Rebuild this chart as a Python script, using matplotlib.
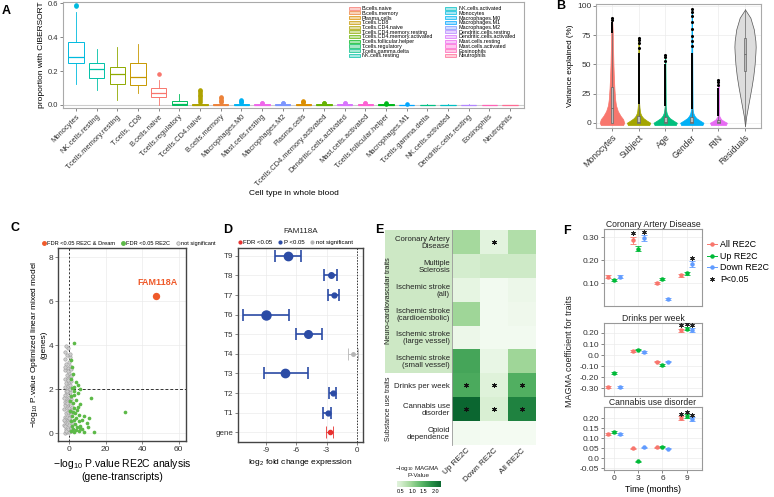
import matplotlib
matplotlib.use('Agg')
import matplotlib.pyplot as plt
import numpy as np
from matplotlib.patches import Patch, Rectangle
from matplotlib.colors import LinearSegmentedColormap, Normalize
from matplotlib.lines import Line2D

plt.rcParams['font.family'] = ['Liberation Sans', 'DejaVu Sans']
plt.rcParams['mathtext.fontset'] = 'custom'
plt.rcParams['mathtext.rm'] = 'Liberation Sans'
plt.rcParams['mathtext.it'] = 'Liberation Sans:italic'

# ---------------- data ----------------
# A: CIBERSORT proportions (box stats)
a_legend = ['B.cells.naive', 'B.cells.memory', 'Plasma.cells', 'T.cells.CD8', 'T.cells.CD4.naive',
            'T.cells.CD4.memory.resting', 'T.cells.CD4.memory.activated', 'T.cells.follicular.helper',
            'T.cells.regulatory', 'T.cells.gamma.delta', 'NK.cells.resting', 'NK.cells.activated',
            'Monocytes', 'Macrophages.M0', 'Macrophages.M1', 'Macrophages.M2', 'Dendritic.cells.resting',
            'Dendritic.cells.activated', 'Mast.cells.resting', 'Mast.cells.activated', 'Eosinophils', 'Neutrophils']
a_cells = ['Monocytes', 'NK.cells.resting', 'T.cells.memory.resting', 'T.cells, CD8', 'B.cells.naive',
           'T.cells.regulatory', 'T.cells.CD4.naive', 'B.cells.memory', 'Macrophages.M0', 'Mast.cells.resting',
           'Macrophages.M2', 'Plasma.cells', 'T.cells.CD4.memory.activated', 'Dendritic.cells.activated',
           'Mast.cells.activated', 'T.cells.follicular.helper', 'Macrophages.M1', 'T.cells.gamma.delta',
           'NK.cells.activated', 'Dendritic.cells.resting', 'Eosinophils', 'Neutrophils']
a_color_idx = [12, 10, 5, 3, 0, 8, 4, 1, 13, 18, 15, 2, 6, 17, 19, 7, 14, 9, 11, 16, 20, 21]
a_med = [0.285, 0.21, 0.185, 0.165, 0.07, 0.005, 0.002, 0.002, 0.001, 0.001, 0.001, 0.002, 0.002,
         0.001, 0.001, 0.001, 0.001, 0.001, 0.001, 0.0, 0.0, 0.0]
a_q1 = [0.245, 0.16, 0.125, 0.12, 0.045, 0.0, 0.0, 0.0, 0.0, 0.0, 0.0, 0.0, 0.0, 0.0, 0.0, 0.0, 0.0,
        0.0, 0.0, 0.0, 0.0, 0.0]
a_q3 = [0.37, 0.25, 0.225, 0.25, 0.10, 0.025, 0.006, 0.006, 0.004, 0.004, 0.004, 0.006, 0.005, 0.004,
        0.004, 0.003, 0.002, 0.002, 0.002, 0.002, 0.001, 0.001]
a_wlo = [0.125, 0.09, 0.03, 0.07, 0.0, 0.0, 0.0, 0.0, 0.0, 0.0, 0.0, 0.0, 0.0, 0.0, 0.0, 0.0, 0.0,
         0.0, 0.0, 0.0, 0.0, 0.0]
a_whi = [0.55, 0.33, 0.34, 0.36, 0.15, 0.065, 0.012, 0.012, 0.008, 0.008, 0.008, 0.012, 0.009, 0.008,
         0.007, 0.006, 0.004, 0.004, 0.004, 0.003, 0.002, 0.002]
a_fliers = [[0.584, 0.588], [], [], [], [0.18], [],
            [0.02, 0.03, 0.04, 0.05, 0.06, 0.07, 0.08, 0.09], [0.02, 0.025, 0.03, 0.04, 0.045],
            [0.015, 0.02, 0.025, 0.03], [0.01, 0.012], [0.01, 0.014], [0.016, 0.02, 0.024],
            [0.012, 0.014], [0.01, 0.012], [0.01, 0.012], [0.008, 0.01], [0.006], [], [], [], [], []]

# B: variance partition violins
b_cats = ['Monocytes', 'Subject', 'Age', 'Gender', 'RIN', 'Residuals']
b_colors = ['#F8766D', '#A3A500', '#00BF7D', '#00B0F6', '#E76BF3', '#DDDDDD']
b_prof_y = [[-2, 0, 3, 6, 10, 15, 20, 30, 40, 50, 60, 70, 77, 85, 90],
            [-2, 0, 2, 4, 6, 8, 10, 13, 16, 20, 73],
            [-2, 0, 2, 4, 6, 8, 10, 12, 14, 58],
            [-2, 0, 2, 4, 6, 8, 10, 12, 97],
            [-2, 0, 1.5, 3, 5, 6, 37],
            [-3, 5, 10, 20, 30, 40, 50, 60, 65, 70, 80, 90, 97]]
b_prof_w = [[0.42, 0.46, 0.42, 0.32, 0.22, 0.15, 0.12, 0.09, 0.07, 0.055, 0.045, 0.035, 0.03, 0.015, 0.0],
            [0.40, 0.44, 0.30, 0.18, 0.11, 0.07, 0.05, 0.035, 0.025, 0.015, 0.008],
            [0.40, 0.44, 0.30, 0.17, 0.10, 0.06, 0.04, 0.03, 0.02, 0.008],
            [0.40, 0.44, 0.30, 0.17, 0.10, 0.06, 0.04, 0.03, 0.008],
            [0.28, 0.32, 0.20, 0.10, 0.05, 0.03, 0.008],
            [0.0, 0.04, 0.08, 0.16, 0.24, 0.31, 0.36, 0.39, 0.40, 0.39, 0.33, 0.20, 0.0]]
b_q1 = [0, 0, 0, 0, 0, 44]
b_med = [13, 1, 1, 1, 0.5, 59]
b_q3 = [31, 6, 5, 5, 2, 73]
b_wlo = [0, 0, 0, 0, 0, -3]
b_whi = [77, 16, 14, 12, 6, 97]
b_out_lo = [77, 16, 14, 12, 6, None]
b_out_hi = [86, 60, 50, 60, 30, None]
b_out_pts = [[88, 90], [64, 68, 71, 73], [53, 56, 58], [66, 70, 74, 80, 86, 91, 95, 97], [32, 35, 37], []]

# C: RE2C vs dream
c_ns_x = [-2.3, -1.1, 0.2, 1.3, -1.8, -0.4, 0.9, -2.6, -1.2, 0.1, 1.6, -1.9, -0.6, 0.7, -2.4, -1.0, 0.3,
          1.2, -1.7, -0.3, 0.9, -2.5, -1.2, 0.2, 1.5, -1.9, -0.5, 0.8, -2.2, -0.9, 0.4, 1.3, -1.6, -0.2,
          1.0, -2.4, -1.1, 0.3, -1.8, -0.5, 0.8, -2.1, -0.8, 0.5, -1.5, -0.1, 1.1, -2.0, -0.7, 0.4, -1.3,
          0.0, -2.2, -0.6, 0.6, -1.5, -0.2, -2.0, 0.3, -1.0, -2.3, -0.4, 0.8, -1.4, -0.8, -1.9, 1.3, 0.9,
          -2.7, -1.5, 0.6, -0.9, -2.0, 0.0, -1.3, -2.8, 1.0, -0.3]
c_ns_y = [0.02, 0.05, 0.03, 0.08, 0.2, 0.18, 0.25, 0.35, 0.4, 0.38, 0.45, 0.55, 0.6, 0.58, 0.72, 0.75,
          0.8, 0.85, 0.92, 0.97, 1.02, 1.08, 1.12, 1.15, 1.2, 1.27, 1.3, 1.36, 1.42, 1.47, 1.5, 1.55, 1.6,
          1.66, 1.7, 1.75, 1.8, 1.86, 1.93, 1.97, 2.02, 2.1, 2.14, 2.2, 2.27, 2.32, 2.38, 2.45, 2.5, 2.58,
          2.66, 2.75, 2.85, 2.95, 3.05, 3.15, 3.25, 3.38, 3.45, 3.55, 3.7, 3.85, 3.6, 3.95, 2.8, 3.0, 2.9,
          2.6, 0.6, 0.1, 1.0, 1.9, 0.3, 0.7, 1.35, 1.6, 0.15, 2.4]
c_sig_x = [2.8, 0.9, 1.5, 2.1, 4.0, 4.7, 2.8, 1.5, 5.8, 2.5, 4.7, 0.9, 12.3, 3.6, 2.1, 6.2, 2.8, 4.3,
           0.6, 30.8, 3.4, 5.5, 1.5, 8.1, 4.0, 2.5, 7.2, 0.9, 5.3, 9.6, 3.2, 1.5, 6.2, 4.3, 10.4, 2.1,
           7.2, 3.6, 0.9, 5.3, 13.5, 8.1, 2.5, 6.2, 1.2, 3.0, 4.9, 0.5, 2.0, 11.0]
c_sig_y = [4.1, 3.3, 3.0, 2.7, 2.3, 2.2, 2.1, 2.05, 2.0, 1.9, 1.8, 1.67, 1.6, 1.5, 1.36, 1.3, 1.14,
           1.06, 1.0, 0.97, 0.9, 0.83, 0.76, 0.76, 0.68, 0.6, 0.6, 0.53, 0.53, 0.45, 0.42, 0.33, 0.33,
           0.27, 0.27, 0.18, 0.18, 0.12, 0.08, 0.08, 0.05, 0.06, 0.03, 0.23, 2.45, 1.75, 1.2, 1.45, 0.95,
           0.7]
c_top_x = [47.5]
c_top_y = [6.25]

# D: FAM118A transcripts
d_labels = ['gene', 'T1', 'T2', 'T3', 'T4', 'T5', 'T6', 'T7', 'T8', 'T9']
d_est = [-2.65, -2.9, -2.4, -7.1, -0.35, -4.8, -9.0, -2.3, -2.6, -6.85]
d_lo = [-3.05, -3.35, -2.8, -9.2, -0.85, -6.0, -11.3, -2.85, -3.3, -8.1]
d_hi = [-2.35, -2.55, -2.05, -4.85, 0.1, -3.5, -6.7, -1.75, -2.0, -5.5]
d_class = ['fdr', 'p', 'p', 'p', 'ns', 'p', 'p', 'p', 'p', 'p']
d_msize = [3.0, 3.5, 3.5, 6.0, 2.5, 5.5, 6.5, 3.5, 4.0, 6.0]

# E: MAGMA heatmap
e_traits = ['Coronary Artery\nDisease', 'Multiple\nSclerosis', 'Ischemic stroke\n(all)',
            'Ischemic stroke\n(cardioembolic)', 'Ischemic stroke\n(large vessel)',
            'Ischemic stroke\n(small vessel)', 'Drinks per week', 'Cannabis use\ndisorder',
            'Opioid\ndependence']
e_sets = ['Up RE2C', 'Down RE2C', 'All RE2C']
e_vals = [[0.9, 0.3, 0.8],
          [0.5, 0.55, 0.55],
          [0.25, 0.05, 0.15],
          [0.95, 0.05, 0.1],
          [0.15, 0.05, 0.05],
          [1.6, 0.2, 0.95],
          [1.55, 0.35, 1.5],
          [2.3, 0.45, 2.0],
          [0.05, 0.02, 0.02]]
e_star = [[0, 1, 0], [0, 0, 0], [0, 0, 0], [0, 0, 0], [0, 0, 0], [0, 0, 0],
          [1, 1, 1], [1, 1, 1], [0, 0, 0]]

# F: MAGMA coefficients over time (series: All, Up, Down)
f_times = [0, 3, 6, 9]
f_series = ['All RE2C', 'Up RE2C', 'Down RE2C']
f_titles = ['Coronary Artery Disease', 'Drinks per week', 'Cannabis use disorder']
f_vals = [[[0.127, 0.285, 0.10, 0.133], [0.113, 0.25, 0.117, 0.143], [0.128, 0.295, 0.03, 0.182]],
          [[-0.29, 0.036, -0.06, 0.225], [-0.165, 0.05, -0.09, 0.238], [-0.29, 0.028, -0.06, 0.228]],
          [[0.12, 0.05, 0.055, 0.198], [0.132, -0.015, 0.058, 0.208], [0.12, 0.055, 0.048, 0.193]]]
f_err = [[[0.006, 0.016, 0.006, 0.007], [0.006, 0.01, 0.006, 0.007], [0.006, 0.014, 0.004, 0.012]],
         [[0.012, 0.006, 0.006, 0.015], [0.008, 0.006, 0.006, 0.015], [0.012, 0.006, 0.006, 0.015]],
         [[0.004, 0.003, 0.003, 0.01], [0.004, 0.003, 0.003, 0.01], [0.004, 0.003, 0.003, 0.01]]]
f_sig = [[[0, 1, 0, 0], [0, 0, 0, 0], [0, 1, 0, 1]],
         [[0, 0, 0, 1], [0, 0, 0, 1], [0, 0, 0, 1]],
         [[0, 0, 0, 1], [0, 0, 0, 1], [0, 0, 0, 1]]]
f_yticks = [[0.10, 0.20, 0.30], [-0.30, -0.20, -0.10, 0.0, 0.10, 0.20],
            [-0.05, 0.0, 0.05, 0.10, 0.15, 0.20]]
f_yticklabels = [['0.10', '0.20', '0.30'], ['-0.30', '-0.20', '-0.10', '0.0', '0.10', '0.20'],
                 ['-0.05', '0.0', '0.05', '0.10', '0.15', '0.20']]
f_ylims = [(0.0, 0.335), (-0.37, 0.29), (-0.058, 0.255)]


# ---------------- helpers ----------------
W, H = 774, 497
fig = plt.figure(figsize=(W / 100, H / 100), dpi=100)


def add_ax(l, t, r, b):
    return fig.add_axes([l / W, 1 - b / H, (r - l) / W, (b - t) / H])


def fx(x):
    return x / W


def fy(y):
    return 1 - y / H


def hue_pal(n, l=65, c=100):
    # ggplot2 default hue palette (HCL)
    out = []
    M = np.array([[3.2406, -1.5372, -0.4986], [-0.9689, 1.8758, 0.0415], [0.0557, -0.2040, 1.0570]])
    for h in np.linspace(15, 375, n + 1)[:n]:
        u = c * np.cos(np.radians(h))
        v = c * np.sin(np.radians(h))
        Y = ((l + 16) / 116) ** 3
        up = u / (13 * l) + 0.19784
        vp = v / (13 * l) + 0.46834
        X = Y * 9 * up / (4 * vp)
        Z = Y * (12 - 3 * up - 20 * vp) / (4 * vp)
        rgb = M @ np.array([X, Y, Z])
        rgb = np.clip(rgb, 0, None)
        rgb = np.where(rgb <= 0.0031308, 12.92 * rgb, 1.055 * rgb ** (1 / 2.4) - 0.055)
        out.append(tuple(np.clip(rgb, 0, 1)))
    return out


def gg_frame(ax, col='#9a9a9a', lw=0.8):
    for s in ax.spines.values():
        s.set_color(col)
        s.set_linewidth(lw)
    ax.tick_params(length=2, width=0.5, color='#555555', labelcolor='#333333', pad=1.5)


GRID = '#ebebeb'

# ---------------- A ----------------
pal = hue_pal(22)
axA = add_ax(63, 2, 524, 108)
stats = [dict(med=a_med[i], q1=a_q1[i], q3=a_q3[i], whislo=a_wlo[i], whishi=a_whi[i],
              fliers=a_fliers[i], label=a_cells[i]) for i in range(22)]
axA.axhline(0, color='#cccccc', lw=0.8, zorder=0)
bp = axA.bxp(stats, positions=range(22), widths=0.75, patch_artist=True, showfliers=True)
for i in range(22):
    col = pal[a_color_idx[i]]
    bp['boxes'][i].set(facecolor='white', edgecolor=col, linewidth=0.7)
    bp['medians'][i].set(color=col, linewidth=0.9)
    bp['whiskers'][2 * i].set(color=col, linewidth=0.6)
    bp['whiskers'][2 * i + 1].set(color=col, linewidth=0.6)
    bp['caps'][2 * i].set_visible(False)
    bp['caps'][2 * i + 1].set_visible(False)
    bp['fliers'][i].set(marker='o', markerfacecolor=col, markeredgecolor=col, markersize=2.3)
axA.set_xlim(-0.63, 21.68)
axA.set_ylim(-0.018, 0.608)
axA.set_yticks([0.0, 0.2, 0.4, 0.6])
axA.set_yticklabels(['0.0', '0.2', '0.4', '0.6'], fontsize=5.5)
axA.set_xticks(range(22))
axA.set_xticklabels(a_cells, rotation=45, ha='right', rotation_mode='anchor', fontsize=5.4)
gg_frame(axA, '#aaaaaa')
axA.set_ylabel('proportion with CIBERSORT', fontsize=6, labelpad=2)
axA.set_xlabel('Cell type in whole blood', fontsize=6, labelpad=1)
handles = [Patch(facecolor=(*pal[k], 0.35), edgecolor=pal[k], linewidth=0.5) for k in range(22)]
axA.legend(handles, a_legend, ncol=2, loc='upper right', bbox_to_anchor=(0.99, 1.0), frameon=False,
           fontsize=3.9, handlelength=2.0, handleheight=0.5, labelspacing=-0.05, columnspacing=2.2,
           handletextpad=0.4, borderpad=0.25)

# ---------------- B ----------------
axB = add_ax(596, 4, 761, 128)
axB.grid(color=GRID, lw=0.5)
axB.set_axisbelow(True)
for i in range(6):
    yy = np.array(b_prof_y[i], dtype=float)
    ww = np.array(b_prof_w[i], dtype=float)
    axB.fill_betweenx(yy, i + 1 - ww, i + 1 + ww, facecolor=b_colors[i],
                      edgecolor='#555555' if i == 5 else b_colors[i], lw=0.5, zorder=2)
    if b_out_lo[i] is not None:
        axB.vlines(i + 1, b_out_lo[i], b_out_hi[i], color='black', lw=1.4, zorder=4)
    if b_out_pts[i]:
        axB.scatter([i + 1] * len(b_out_pts[i]), b_out_pts[i], s=1.5, color='black', zorder=4)
bstats = [dict(med=b_med[i], q1=b_q1[i], q3=b_q3[i], whislo=b_wlo[i], whishi=b_whi[i], fliers=[])
          for i in range(6)]
bb = axB.bxp(bstats, positions=range(1, 7), widths=0.1, patch_artist=True, showfliers=False,
             manage_ticks=False)
for i in range(6):
    bb['boxes'][i].set(facecolor='#bdbdbd', edgecolor='#666666', linewidth=0.5, zorder=5)
    bb['medians'][i].set(color='#666666', linewidth=0.6, zorder=6)
    for k in (2 * i, 2 * i + 1):
        bb['whiskers'][k].set(color='#666666', linewidth=0.5, zorder=5)
        bb['caps'][k].set_visible(False)
axB.set_xlim(0.4, 6.6)
axB.set_ylim(-4.5, 101.7)
axB.set_yticks([0, 25, 50, 75, 100])
axB.set_yticklabels(['0', '25', '50', '75', '100'], fontsize=6)
axB.set_xticks(range(1, 7))
axB.set_xticklabels(b_cats, rotation=45, ha='right', rotation_mode='anchor', fontsize=6.3)
gg_frame(axB, '#aaaaaa')
axB.set_ylabel('Variance explained (%)', fontsize=5.8, labelpad=2)

# ---------------- C ----------------
axC = add_ax(58, 248, 186, 441)
axC.grid(color=GRID, lw=0.5)
axC.set_axisbelow(True)
axC.scatter(c_ns_x, c_ns_y, s=6, facecolor='#cfcfcf', edgecolor='#9d9d9d', lw=0.4, zorder=2)
axC.scatter(c_sig_x, c_sig_y, s=7, color='#5cb947', lw=0, zorder=3)
axC.scatter(c_top_x, c_top_y, s=28, color='#ef5a2a', lw=0, zorder=4)
axC.text(48.5, 6.62, 'FAM118A', color='#ef5a2a', fontsize=6.5, fontweight='bold', ha='center', va='bottom')
axC.axvline(0, color='#333333', lw=0.7, ls=(0, (2, 2)), zorder=1)
axC.axhline(2, color='#333333', lw=0.7, ls=(0, (3, 2)), zorder=1)
axC.set_xlim(-6, 64)
axC.set_ylim(-0.36, 8.41)
axC.set_xticks([0, 20, 40, 60])
axC.set_yticks([0, 2, 4, 6, 8])
gg_frame(axC, '#444444', 1.0)
axC.tick_params(labelsize=6)
axC.set_xlabel('$-$log$_{10}$ P.value RE2C analysis\n(gene-transcripts)', fontsize=7.5, labelpad=3,
               linespacing=1.1)
axC.set_ylabel('$-$log$_{10}$ P.value Optimized linear mixed model\n(genes)', fontsize=6,
               labelpad=0.5)
hC = [Line2D([], [], ls='none', marker='o', ms=2.5, color='#ef5a2a'),
      Line2D([], [], ls='none', marker='o', ms=2.5, color='#5cb947'),
      Line2D([], [], ls='none', marker='o', ms=2.5, markerfacecolor='#dddddd', markeredgecolor='#999999',
             markeredgewidth=0.5)]
axC.legend(hC, ['FDR <0.05 RE2C & Dream', 'FDR <0.05 RE2C', 'not significant'], ncol=3,
           loc='lower left', bbox_to_anchor=(-0.15, 0.995), frameon=False, fontsize=4.1,
           handlelength=0.6, handletextpad=0.3, columnspacing=1.0, borderpad=0.1)

# ---------------- D ----------------
axD = add_ax(238, 248, 363, 442)
axD.grid(color=GRID, lw=0.5)
axD.set_axisbelow(True)
dcol = {'fdr': '#e8312f', 'p': '#2b4ba5', 'ns': '#b5b5b5'}
for i in range(10):
    c = dcol[d_class[i]]
    lw = 0.6 if d_class[i] != 'p' else 1.2
    axD.errorbar(d_est[i], i, xerr=[[d_est[i] - d_lo[i]], [d_hi[i] - d_est[i]]], fmt='o', color=c,
                 ms=d_msize[i], elinewidth=lw, capsize=4.5, capthick=lw, zorder=3)
axD.axvline(0, color='#333333', lw=0.7, ls=(0, (1.5, 1.5)), zorder=1)
axD.set_xlim(-11.75, 0.6)
axD.set_ylim(-0.5, 9.4)
axD.set_yticks(range(10))
axD.set_yticklabels(d_labels, fontsize=5.8)
axD.set_xticks([-9, -6, -3, 0])
axD.set_xticklabels(['-9', '-6', '-3', '0'], fontsize=5.8)
gg_frame(axD, '#444444', 1.0)
axD.set_xlabel('log$_2$ fold change expression', fontsize=6, labelpad=2)
axD.set_title('FAM118A', fontsize=5.8, pad=11, color='#222222')
hD = [Line2D([], [], ls='none', marker='o', ms=2, color=dcol['fdr']),
      Line2D([], [], ls='none', marker='o', ms=2, color=dcol['p']),
      Line2D([], [], ls='none', marker='o', ms=2, color=dcol['ns'])]
axD.legend(hD, ['FDR <0.05', 'P <0.05', 'not significant'], ncol=3, loc='lower left',
           bbox_to_anchor=(-0.03, 0.995), frameon=False, fontsize=4.3, handlelength=0.6,
           handletextpad=0.3, columnspacing=1.0, borderpad=0.1)

# ---------------- E ----------------
fig.patches.append(Rectangle((fx(385), fy(373)), fx(452) - fx(385), fy(230) - fy(373),
                             transform=fig.transFigure, facecolor='#cde8c5', edgecolor='none',
                             zorder=-5))
cmap = LinearSegmentedColormap.from_list('gr', ['#f5fbf3', '#d8efd2', '#a3d89b', '#5fb96a',
                                                '#2a9148', '#0b6630'])
norm = Normalize(0, 2.3)
axE = add_ax(452, 230, 536, 445)
axE.pcolormesh(np.arange(4), np.arange(10), np.array(e_vals), cmap=cmap, norm=norm)
axE.set_xlim(0, 3)
axE.set_ylim(9, 0)
for r in range(9):
    for c in range(3):
        if e_star[r][c]:
            axE.plot(c + 0.5, r + 0.5, ls='none', marker=(6, 2, 0), ms=3.5, mew=0.7, color='#111111')
axE.set_yticks(np.arange(9) + 0.5)
axE.set_yticklabels(e_traits, fontsize=5.6, linespacing=1.0)
axE.set_xticks(np.arange(3) + 0.5)
axE.set_xticklabels(e_sets, rotation=45, ha='right', rotation_mode='anchor', fontsize=5.9)
axE.tick_params(length=0, pad=1.5, labelcolor='#222222')
for s in axE.spines.values():
    s.set_visible(False)
axE.plot([0, 0], [0, 9], color='#999999', lw=0.6, clip_on=False)
fig.text(fx(389), fy(301), 'Neuro-cardiovascular traits', rotation=90, ha='center', va='center',
         fontsize=5.2, color='#222222')
fig.text(fx(389), fy(409), 'Substance use traits', rotation=90, ha='center', va='center',
         fontsize=5.0, color='#222222')
fig.text(fx(418), fy(471), '$-$log$_{10}$ MAGMA\nP-Value', ha='center', va='center', fontsize=4.6,
         linespacing=1.0, color='#222222')
cax = add_ax(397, 481, 441, 487)
cax.imshow(np.linspace(0.33, 2.25, 100)[None, :], extent=[0.33, 2.25, 0, 1], aspect='auto',
           cmap=cmap, norm=norm)
cax.set_yticks([])
cax.set_xticks([0.5, 1.0, 1.5, 2.0])
cax.set_xticklabels(['0.5', '1.0', '1.5', '2.0'], fontsize=4.0)
cax.tick_params(length=0, pad=1.5)
for s in cax.spines.values():
    s.set_visible(False)

# ---------------- F ----------------
f_cols = ['#F8766D', '#00BA38', '#619CFF']
f_off = [-0.7, 0.0, 0.7]
f_boxes = [(229, 306), (323, 396), (407, 470)]
f_axes = []
for p in range(3):
    ax = add_ax(604, f_boxes[p][0], 702, f_boxes[p][1])
    ax.grid(color=GRID, lw=0.5)
    ax.set_axisbelow(True)
    span = f_ylims[p][1] - f_ylims[p][0]
    for s in range(3):
        xs = [t + f_off[s] for t in f_times]
        ax.errorbar(xs, f_vals[p][s], yerr=f_err[p][s], fmt='o', ms=2.2, color=f_cols[s],
                    elinewidth=0.6, capsize=2.5, capthick=0.6, zorder=3)
        for j in range(4):
            if f_sig[p][s][j]:
                ax.plot(xs[j], f_vals[p][s][j] + f_err[p][s][j] + 0.045 * span, ls='none',
                        marker=(6, 2, 0), ms=3.2, mew=0.7, color='#222222', zorder=4)
    ax.set_xlim(-1.25, 10.9)
    ax.set_ylim(*f_ylims[p])
    ax.set_xticks(f_times)
    ax.set_yticks(f_yticks[p])
    ax.set_yticklabels(f_yticklabels[p], fontsize=6)
    if p < 2:
        ax.set_xticklabels([])
    else:
        ax.set_xticklabels(['0', '3', '6', '9'], fontsize=6)
    gg_frame(ax, '#999999')
    if p < 2:
        ax.tick_params(axis='x', length=0)
    ax.set_title(f_titles[p], fontsize=6.2, pad=1.5, color='#222222')
    f_axes.append(ax)
f_axes[2].set_xlabel('Time (months)', fontsize=6.3, labelpad=2)
fig.text(fx(570), fy(351), 'MAGMA coefficient for traits', rotation=90, ha='center', va='center',
         fontsize=6.5, color='#222222')
hF = [Line2D([], [], color=f_cols[s], marker='o', ms=2.2, lw=0.7) for s in range(3)]
hF.append(Line2D([], [], ls='none', marker=(6, 2, 0), ms=3.2, mew=0.7, color='#222222'))
fig.legend(hF, f_series + ['P<0.05'], loc='upper left', bbox_to_anchor=(fx(707), fy(240)),
           frameon=False, fontsize=6.4, handlelength=1.1, handletextpad=0.4, labelspacing=0.3,
           borderpad=0.0, borderaxespad=0.0)

# ---------------- panel letters ----------------
for lab, x, y in [('A', 6, 11), ('B', 561, 6), ('C', 15, 228), ('D', 228, 230), ('E', 379, 230),
                  ('F', 567, 231)]:
    fig.text(fx(x), fy(y), lab, fontsize=9, fontweight='bold', ha='center', va='center')

fig.savefig('out.png', dpi=100, facecolor='white')
